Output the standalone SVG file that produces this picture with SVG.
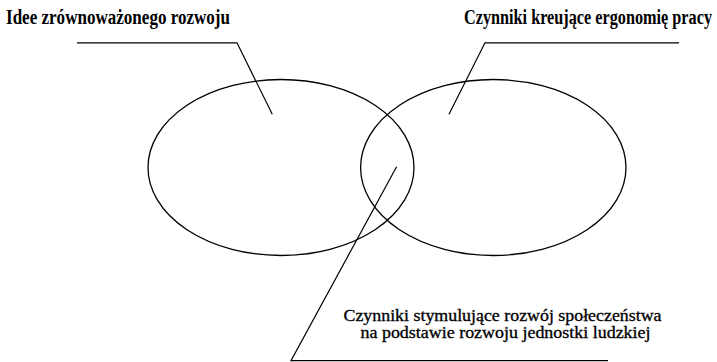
<svg xmlns="http://www.w3.org/2000/svg" width="717" height="362" viewBox="0 0 717 362">
<style>
.sh{fill:none;stroke:#000;stroke-width:1.3}
.ln{fill:none;stroke:#000;stroke-width:1.2}
text{font-family:"Times New Roman","Liberation Serif",Tinos,"Noto Serif","DejaVu Serif",Georgia,serif;fill:#000}
.t1{font-weight:bold;font-size:16px}
.t2{font-size:16px;stroke:#000;stroke-width:0.3}
</style>
<rect width="717" height="362" fill="#fff"/>
<g id="idee">
<ellipse class="sh" cx="281" cy="167.5" rx="133" ry="88"/>
<text class="t1" transform="translate(6,24) scale(1,1.35)" x="0" y="0" textLength="224" lengthAdjust="spacingAndGlyphs">Idee zrównoważonego rozwoju</text>
</g>
<g id="ergonomia">
<ellipse class="sh" cx="493.3" cy="167.5" rx="132.7" ry="88"/>
<text class="t1" transform="translate(464,24) scale(1,1.35)" x="0" y="0" textLength="248" lengthAdjust="spacingAndGlyphs">Czynniki kreujące ergonomię pracy</text>
</g>
<g id="spoleczenstwo">
<text class="t2" x="343.5" y="320.5" textLength="318" lengthAdjust="spacingAndGlyphs">Czynniki stymulujące rozwój społeczeństwa</text>
<text class="t2" x="360.5" y="337.5" textLength="290" lengthAdjust="spacingAndGlyphs">na podstawie rozwoju jednostki ludzkiej</text>
</g>
<g id="connectors">
<polyline class="ln" points="77,42.8 237,42.8 272.3,114.3"/>
<polyline class="ln" points="679,42.8 485,42.8 449,114.3"/>
<polyline class="ln" points="396.6,166.7 291,360.7 608,360.7"/>
</g>
</svg>
